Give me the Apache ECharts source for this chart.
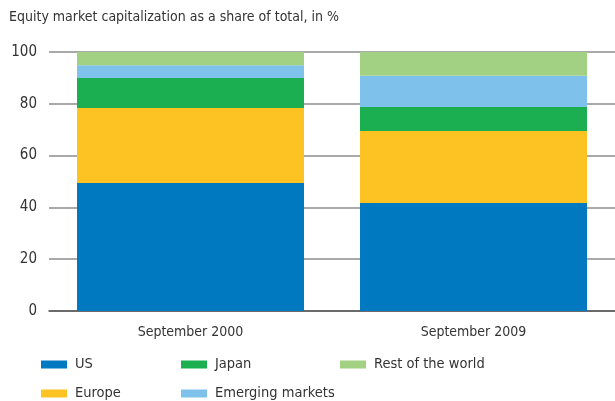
<!DOCTYPE html>
<html>
<head>
<meta charset="utf-8">
<script src="https://cdn.jsdelivr.net/npm/echarts@6/dist/echarts.min.js"></script>
<style>
  html, body { margin: 0; padding: 0; background: #fff; }
  #chart { width: 615px; height: 401px; }
</style>
</head>
<body>
<div id="chart"></div>
<script>
// values, % of total
var categories = ["September 2000", "September 2009"];
var us = [49.4, 41.7];
var europe = [29.0, 27.8];
var japan = [11.6, 9.3];
var emerging = [4.9, 12.0];
var restOfWorld = [5.1, 9.2];
var yTicks = [0, 20, 40, 60, 80, 100];

var font = '"Liberation Sans Narrow", "DejaVu Sans Condensed", sans-serif';
var textColor = "#333";

var chart = echarts.init(document.getElementById("chart"));

function bar(name, data, color) {
  return {
    name: name,
    type: "bar",
    stack: "total",
    barWidth: 227,
    data: data,
    itemStyle: { color: color },
  };
}

// one legend per item so the columns line up like the original
function legendItem(name, left, top) {
  return {
    left: left,
    top: top,
    selectedMode: false,
    icon: "rect",
    itemWidth: 26,
    itemHeight: 8,
    itemGap: 0,
    padding: 0,
    data: [name],
    textStyle: { fontFamily: font, fontSize: 14.5, color: textColor, padding: [0, 0, 0, 3] },
  };
}

chart.setOption({
  animation: false,
  title: {
    text: "Equity market capitalization as a share of total, in %",
    left: 9,
    top: 10,
    padding: 0,
    textStyle: { fontFamily: font, fontSize: 14, fontWeight: "normal", color: textColor },
  },
  grid: { left: 49, right: 0, top: 52, bottom: 90 },
  legend: [
    legendItem("US", 41, 357),
    legendItem("Japan", 181, 357),
    legendItem("Rest of the world", 340, 357),
    legendItem("Europe", 41, 386),
    legendItem("Emerging markets", 181, 386),
  ],
  xAxis: {
    type: "category",
    data: categories,
    axisLine: { lineStyle: { color: "#555", width: 1.5 } },
    axisTick: { show: false },
    axisLabel: { fontFamily: font, fontSize: 14, color: textColor, margin: 14 },
  },
  yAxis: {
    type: "value",
    min: yTicks[0],
    max: yTicks[yTicks.length - 1],
    interval: 20,
    axisLine: { show: false },
    axisTick: { show: false },
    splitLine: { lineStyle: { color: "#8c8c8c", width: 1.5 } },
    axisLabel: { fontFamily: font, fontSize: 15, color: textColor, margin: 12 },
  },
  series: [
    bar("US", us, "#0079c1"),
    bar("Europe", europe, "#fdc322"),
    bar("Japan", japan, "#1caf51"),
    bar("Emerging markets", emerging, "#7ec1ea"),
    bar("Rest of the world", restOfWorld, "#a3d183"),
  ],
});
</script>
</body>
</html>
